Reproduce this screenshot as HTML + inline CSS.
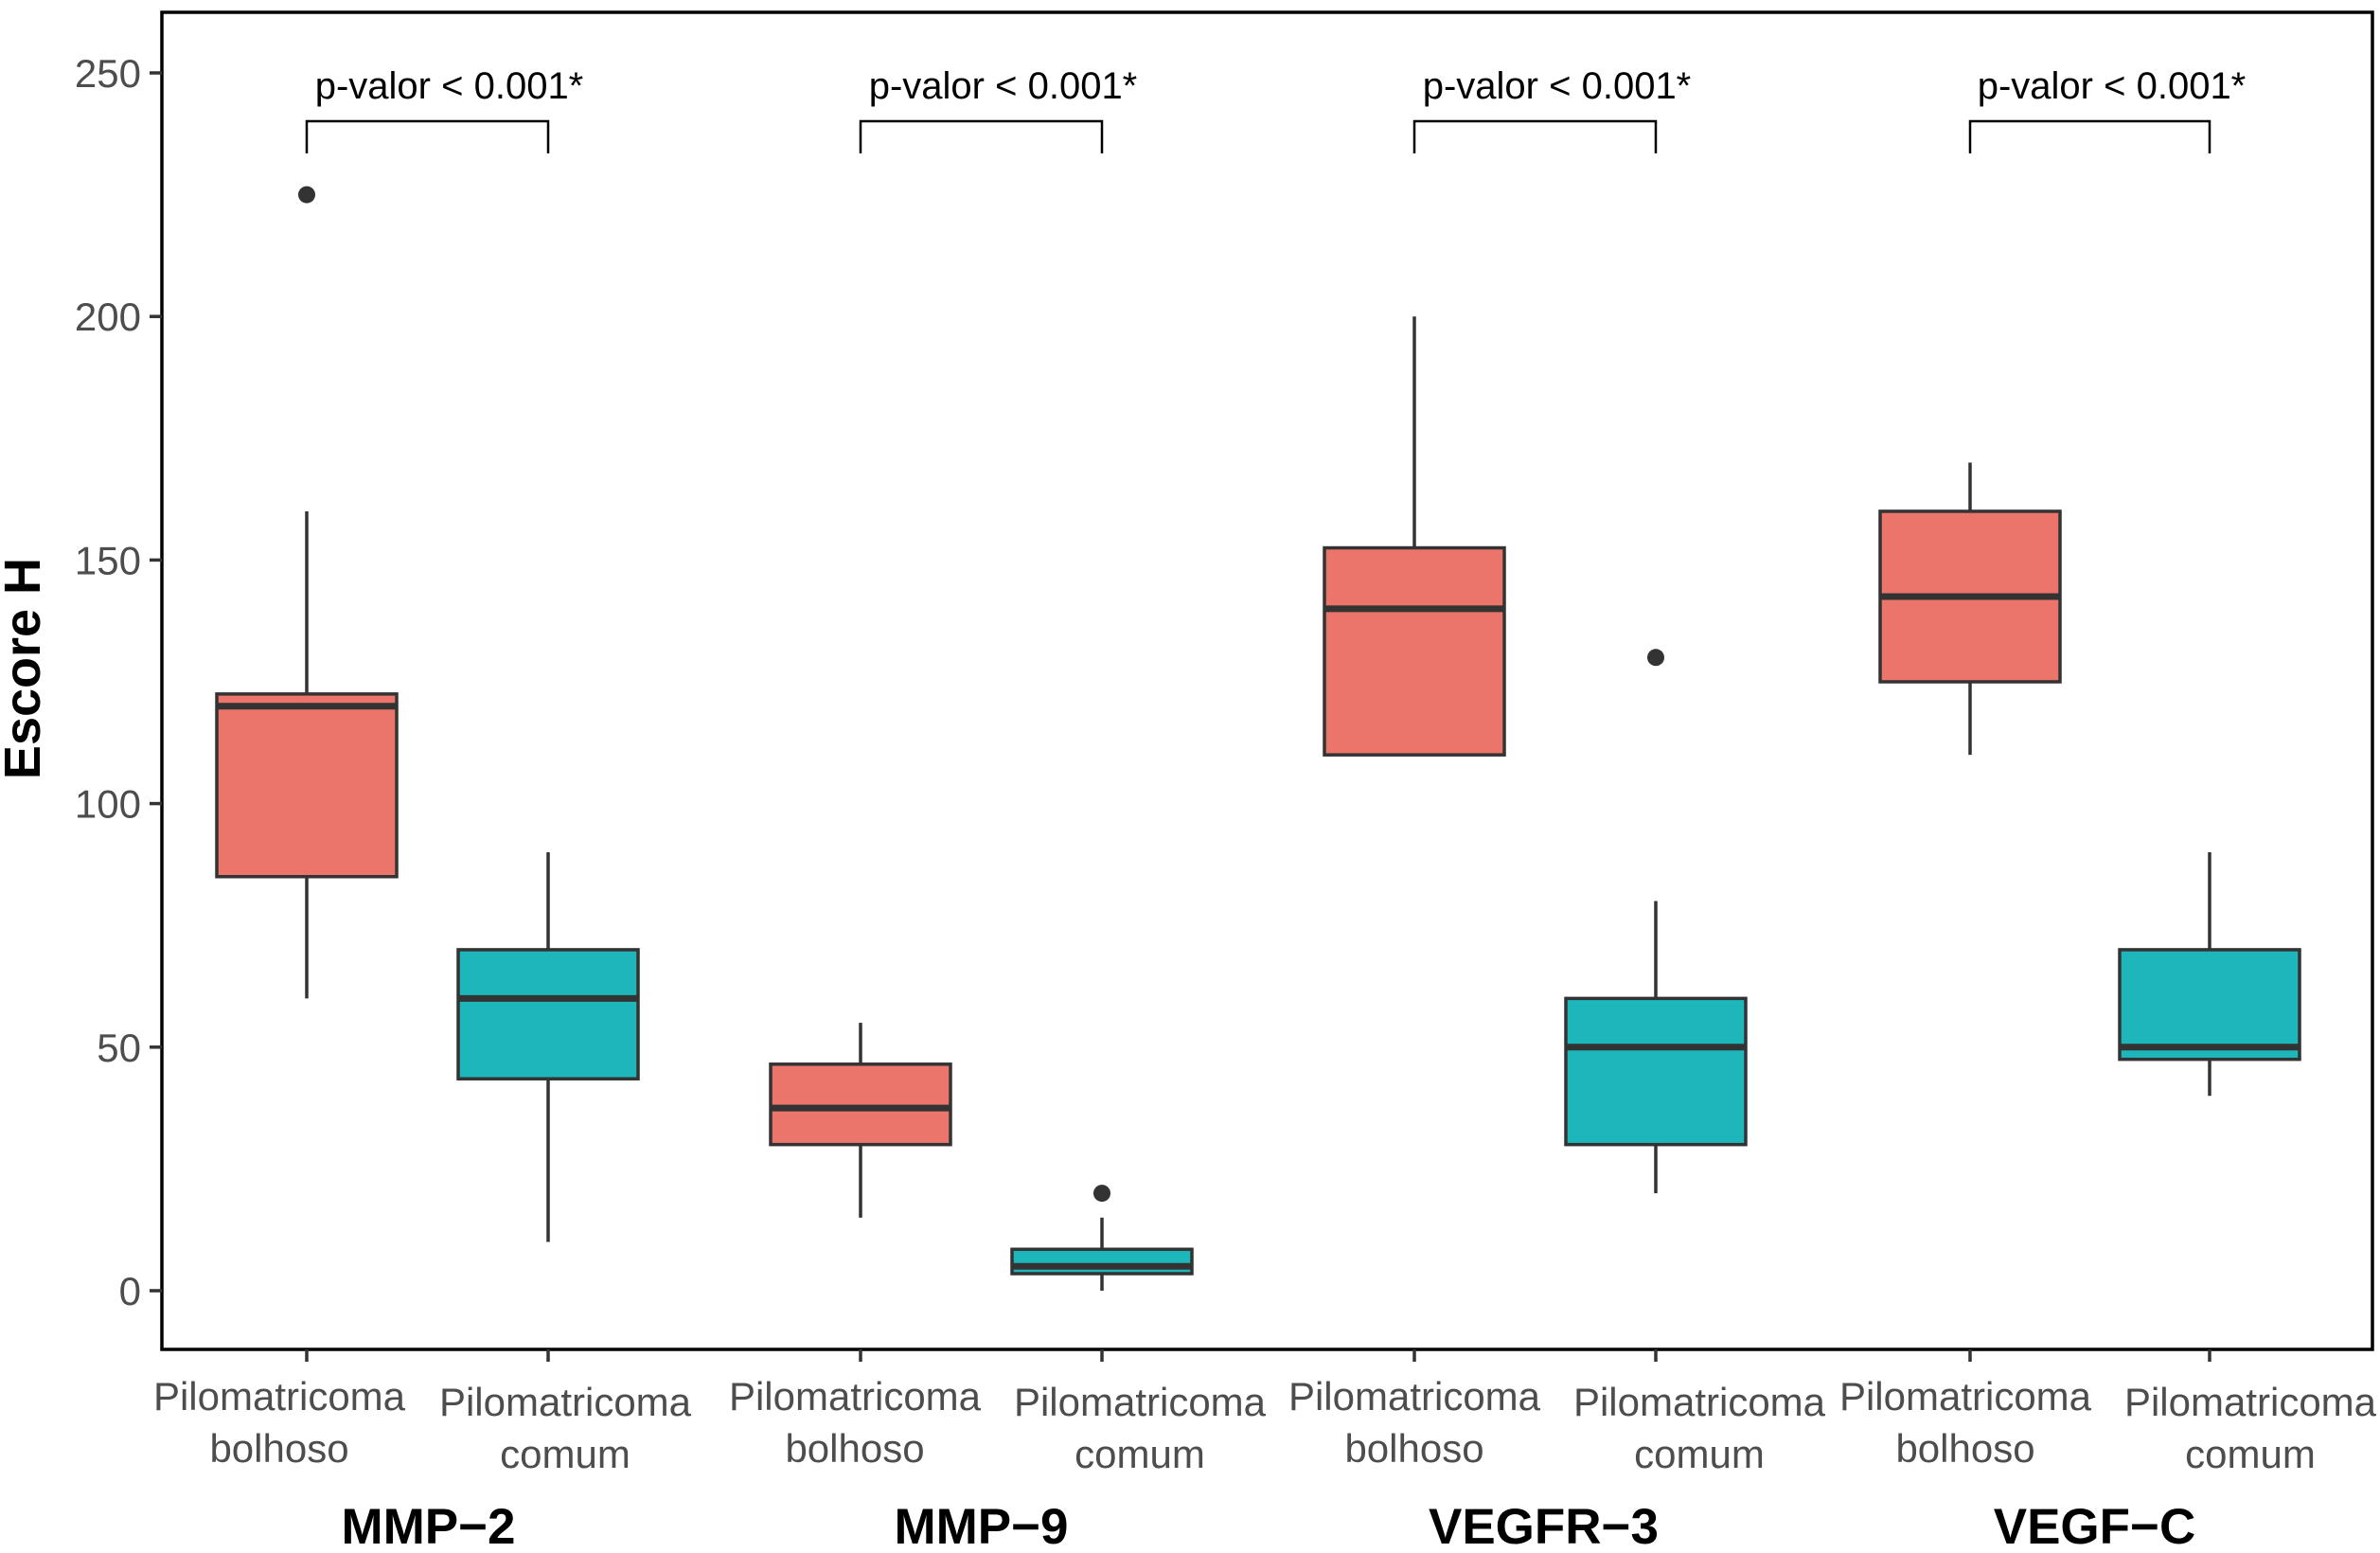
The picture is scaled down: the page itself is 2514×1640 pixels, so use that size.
<!DOCTYPE html>
<html><head><meta charset="utf-8"><style>
html,body{margin:0;padding:0;background:#fff;}
svg{display:block;font-family:"Liberation Sans",Arial,sans-serif;}
</style></head><body>
<svg id="chart" width="2514" height="1640" viewBox="0 0 2514 1640"></svg>
<script>
const groups = ["MMP−2","MMP−9","VEGFR−3","VEGF−C"];
const categories = ["Pilomatricoma bolhoso","Pilomatricoma comum","Pilomatricoma bolhoso","Pilomatricoma comum","Pilomatricoma bolhoso","Pilomatricoma comum","Pilomatricoma bolhoso","Pilomatricoma comum"];
const lowerWhisker = [60,10,15,0,110,20,110,40];
const q1Values = [85,43.5,30,3.5,110,30,125,47.5];
const medianValues = [120,60,37.5,5,140,50,142.5,50];
const q3Values = [122.5,70,46.5,8.5,152.5,60,160,70];
const upperWhisker = [160,90,55,15,200,80,170,90];
const outliers = [[225],[],[],[20],[],[130],[],[]];
const yTicks = [0,50,100,150,200,250];
const pLabels = ["p-valor < 0.001*","p-valor < 0.001*","p-valor < 0.001*","p-valor < 0.001*"];

const svg = document.getElementById('chart');
const NS = 'http://www.w3.org/2000/svg';
const L=171,T=13,R=2506,B=1425;
const xPos=[324,579,909,1164,1494,1749,2081,2334];
const labelDx=[-29,18,-6,40,0,46,-5,43];
const titleDx=[1,0,9,5];
function y(v){return 1363-(1363-77)*v/250;}
function x(i){return xPos[i];}
function mk(tag,attrs,parent){const e=document.createElementNS(NS,tag);for(const k in attrs)e.setAttribute(k,attrs[k]);(parent||svg).appendChild(e);return e;}

const frame=mk('rect',{x:L,y:T,width:R-L,height:B-T,fill:'none',stroke:'#000','stroke-width':3.5});



yTicks.forEach(t=>{
  const g=mk('g',{});
  
  
  mk('line',{x1:L-13,x2:L,y1:y(t),y2:y(t),stroke:'#333','stroke-width':3.5},g);
  const tx=mk('text',{x:L-22,y:y(t)+15,'text-anchor':'end','font-size':42,fill:'#4d4d4d'},g);
  tx.textContent=t;
});

const yt=mk('text',{x:0,y:0,transform:'translate(42,706) rotate(-90)','text-anchor':'middle','font-size':54,'font-weight':'bold',fill:'#000'});


yt.textContent='Escore H';

const hw=95;
categories.forEach((c,i)=>{
  const g=mk('g',{});
  
  
  const col=i%2?'#1DB6BA':'#EB756A';
  mk('line',{x1:x(i),x2:x(i),y1:y(upperWhisker[i]),y2:y(q3Values[i]),stroke:'#333','stroke-width':3.5},g);
  mk('line',{x1:x(i),x2:x(i),y1:y(q1Values[i]),y2:y(lowerWhisker[i]),stroke:'#333','stroke-width':3.5},g);
  mk('rect',{x:x(i)-hw,y:y(q3Values[i]),width:2*hw,height:y(q1Values[i])-y(q3Values[i]),fill:col,stroke:'#333','stroke-width':3.5},g);
  mk('line',{x1:x(i)-hw,x2:x(i)+hw,y1:y(medianValues[i]),y2:y(medianValues[i]),stroke:'#333','stroke-width':7},g);
  outliers[i].forEach(o=>mk('circle',{cx:x(i),cy:y(o),r:9,fill:'#333'},g));
  mk('line',{x1:x(i),x2:x(i),y1:B,y2:B+13,stroke:'#333','stroke-width':3.5},g);
  const parts=c.split(' ');
  const off=i%2?6:0;
  const dx=labelDx[i];
  const t1=mk('text',{x:x(i)+dx,y:1489+off,'text-anchor':'middle','font-size':42,fill:'#4d4d4d'},g);
  t1.textContent=parts[0];
  const t2=mk('text',{x:x(i)+dx,y:1544+off,'text-anchor':'middle','font-size':42,fill:'#4d4d4d'},g);
  t2.textContent=parts[1];
});

groups.forEach((gname,k)=>{
  const a=x(2*k),b=x(2*k+1);
  const g=mk('g',{});
  
  
  mk('path',{d:`M${a},162 V128 H${b} V162`,fill:'none',stroke:'#000','stroke-width':2.5},g);
  const pt=mk('text',{x:(a+b)/2+23,y:104,'text-anchor':'middle','font-size':40,fill:'#000'},g);
  pt.textContent=pLabels[k];
  const gt=mk('text',{x:(a+b)/2+titleDx[k],y:1630,'text-anchor':'middle','font-size':53,'font-weight':'bold',fill:'#000'});
  
  
  gt.textContent=gname;
});
</script>
</body></html>
